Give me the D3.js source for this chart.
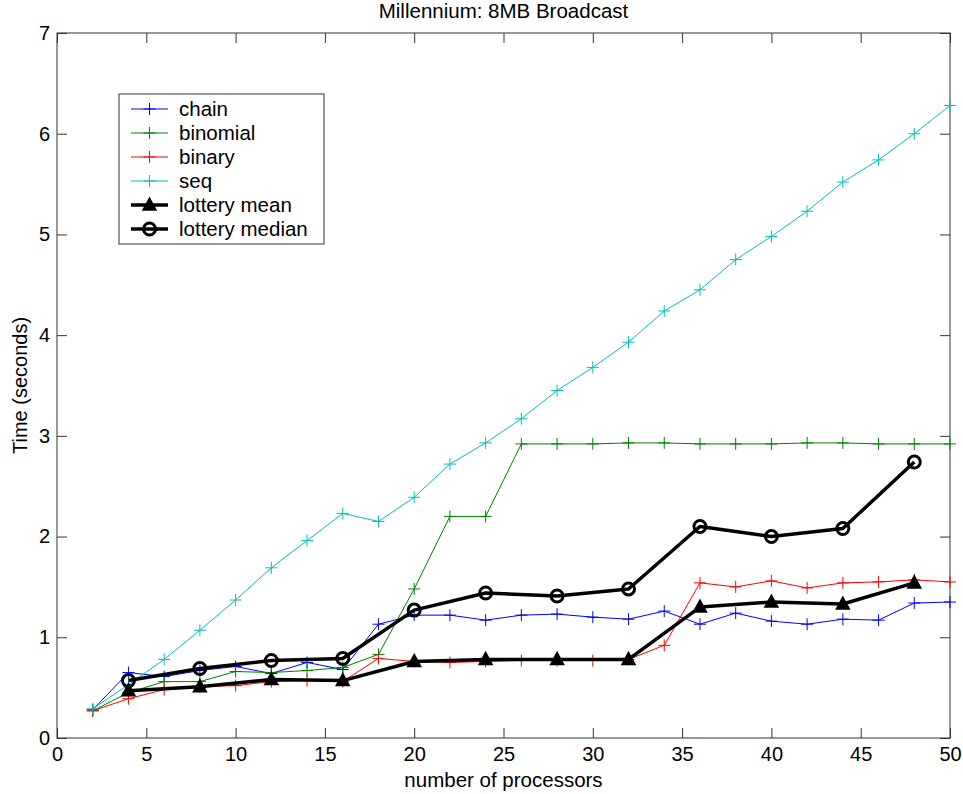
<!DOCTYPE html>
<html>
<head>
<meta charset="utf-8">
<script src="https://cdn.jsdelivr.net/npm/d3@7"></script>
<style>
  body { margin: 0; background: #fff; }
  svg { display: block; font-family: "Liberation Sans", Arial, sans-serif; }
</style>
</head>
<body>
<div id="chart"></div>
<script>
// x values (number of processors)
var procs = [2, 4, 6, 8, 10, 12, 14, 16, 18, 20, 22, 24, 26, 28, 30, 32, 34, 36, 38, 40, 42, 44, 46, 48, 50];
var chain    = [0.28, 0.65, 0.61, 0.67, 0.71, 0.64, 0.75, 0.68, 1.13, 1.22, 1.22, 1.17, 1.22, 1.23, 1.20, 1.18, 1.26, 1.13, 1.24, 1.16, 1.13, 1.18, 1.17, 1.34, 1.35];
var binomial = [0.27, 0.45, 0.56, 0.56, 0.66, 0.65, 0.67, 0.70, 0.83, 1.48, 2.20, 2.20, 2.92, 2.92, 2.92, 2.93, 2.93, 2.92, 2.92, 2.92, 2.93, 2.93, 2.92, 2.92, 2.92];
var binary   = [0.27, 0.39, 0.48, 0.51, 0.52, 0.56, 0.57, 0.56, 0.79, 0.76, 0.75, 0.76, 0.77, 0.77, 0.77, 0.78, 0.92, 1.54, 1.50, 1.56, 1.49, 1.54, 1.55, 1.57, 1.55];
var seq      = [0.29, 0.53, 0.78, 1.07, 1.37, 1.69, 1.96, 2.23, 2.15, 2.39, 2.72, 2.93, 3.17, 3.45, 3.68, 3.93, 4.24, 4.45, 4.75, 4.98, 5.23, 5.52, 5.74, 6.00, 6.28];

// lottery runs only at multiples of 4
var lotteryProcs  = [4, 8, 12, 16, 20, 24, 28, 32, 36, 40, 44, 48];
var lotteryMean   = [0.47, 0.51, 0.58, 0.57, 0.76, 0.78, 0.78, 0.78, 1.30, 1.35, 1.33, 1.54];
var lotteryMedian = [0.57, 0.69, 0.77, 0.79, 1.27, 1.44, 1.41, 1.48, 2.10, 2.00, 2.08, 2.74];

var xTicks = [0, 5, 10, 15, 20, 25, 30, 35, 40, 45, 50];
var yTicks = [0, 1, 2, 3, 4, 5, 6, 7];

var series = [
    {name: 'chain',          xs: procs,        ys: chain,         color: '#0000ff', width: 1,   marker: 'plus'},
    {name: 'binomial',       xs: procs,        ys: binomial,      color: '#008000', width: 1,   marker: 'plus'},
    {name: 'binary',         xs: procs,        ys: binary,        color: '#ff0000', width: 1,   marker: 'plus'},
    {name: 'seq',            xs: procs,        ys: seq,           color: '#00bfbf', width: 1,   marker: 'plus'},
    {name: 'lottery mean',   xs: lotteryProcs, ys: lotteryMean,   color: '#000000', width: 3.5, marker: 'triangle'},
    {name: 'lottery median', xs: lotteryProcs, ys: lotteryMedian, color: '#000000', width: 3.5, marker: 'circle'}
];

var margin = {top: 33, right: 13, bottom: 56, left: 57};
var svgWidth = 963, svgHeight = 794;
var width = svgWidth - margin.left - margin.right;
var height = svgHeight - margin.top - margin.bottom;

var svg = d3.select('#chart').append('svg')
    .attr('width', svgWidth)
    .attr('height', svgHeight);

var g = svg.append('g')
    .attr('transform', 'translate(' + margin.left + ',' + margin.top + ')');

var x = d3.scaleLinear().domain([0, 50]).range([0, width]);
var y = d3.scaleLinear().domain([0, 7]).range([height, 0]);

var frameColor = '#333';

// axes with inward ticks on all four sides (matlab box)
function styleAxis(sel) {
    sel.select('.domain').remove();
    sel.selectAll('line').attr('stroke', frameColor);
    sel.selectAll('text').attr('fill', '#000').style('font-size', '20px');
}

g.append('g')
    .attr('transform', 'translate(0,' + height + ')')
    .call(d3.axisBottom(x).tickValues(xTicks).tickSizeInner(-10).tickSizeOuter(0).tickPadding(9).tickFormat(d3.format('d')))
    .call(styleAxis);

g.append('g')
    .call(d3.axisTop(x).tickValues(xTicks).tickSizeInner(-10).tickSizeOuter(0).tickFormat(''))
    .call(styleAxis);

g.append('g')
    .call(d3.axisLeft(y).tickValues(yTicks).tickSizeInner(-10).tickSizeOuter(0).tickPadding(7).tickFormat(d3.format('d')))
    .call(styleAxis);

g.append('g')
    .attr('transform', 'translate(' + width + ',0)')
    .call(d3.axisRight(y).tickValues(yTicks).tickSizeInner(-10).tickSizeOuter(0).tickFormat(''))
    .call(styleAxis);

g.append('rect')
    .attr('width', width)
    .attr('height', height)
    .attr('fill', 'none')
    .attr('stroke', frameColor)
    .attr('stroke-width', 1);

// markers
function drawMarker(sel, type, color) {
    if (type === 'plus') {
        sel.append('path')
            .attr('d', 'M-6,0H6M0,-6V6')
            .attr('stroke', color)
            .attr('stroke-width', 1)
            .attr('fill', 'none');
    } else if (type === 'triangle') {
        sel.append('path')
            .attr('d', 'M0,-7L6.5,5L-6.5,5Z')
            .attr('fill', color)
            .attr('stroke', color)
            .attr('stroke-width', 1.5);
    } else {
        sel.append('circle')
            .attr('r', 6)
            .attr('fill', 'none')
            .attr('stroke', color)
            .attr('stroke-width', 3);
    }
}

var line = d3.line()
    .x(function(d) { return x(d[0]); })
    .y(function(d) { return y(d[1]); });

series.forEach(function(s) {
    var pts = s.xs.map(function(v, i) { return [v, s.ys[i]]; });

    g.append('path')
        .attr('d', line(pts))
        .attr('fill', 'none')
        .attr('stroke', s.color)
        .attr('stroke-width', s.width)
        .attr('stroke-linejoin', 'round');

    g.selectAll(null)
        .data(pts)
        .enter().append('g')
        .attr('transform', function(d) { return 'translate(' + x(d[0]) + ',' + y(d[1]) + ')'; })
        .each(function() { drawMarker(d3.select(this), s.marker, s.color); });
});

// legend
var legend = svg.append('g').attr('transform', 'translate(119,94)');
legend.append('rect')
    .attr('width', 205)
    .attr('height', 150)
    .attr('fill', '#fff')
    .attr('stroke', frameColor);

series.forEach(function(s, i) {
    var row = legend.append('g').attr('transform', 'translate(0,' + (15 + i * 24) + ')');
    row.append('line')
        .attr('x1', 12).attr('x2', 49)
        .attr('stroke', s.color)
        .attr('stroke-width', s.width);
    drawMarker(row.append('g').attr('transform', 'translate(30.5,0)'), s.marker, s.color);
    row.append('text')
        .attr('x', 60)
        .attr('dy', '0.35em')
        .style('font-size', '20.5px')
        .text(s.name);
});

// title and axis labels
svg.append('text')
    .attr('x', margin.left + width / 2)
    .attr('y', 18)
    .attr('text-anchor', 'middle')
    .style('font-size', '20.5px')
    .text('Millennium: 8MB Broadcast');

svg.append('text')
    .attr('x', margin.left + width / 2)
    .attr('y', 787)
    .attr('text-anchor', 'middle')
    .style('font-size', '20.5px')
    .text('number of processors');

svg.append('text')
    .attr('transform', 'translate(27,' + (margin.top + height / 2) + ') rotate(-90)')
    .attr('text-anchor', 'middle')
    .style('font-size', '20px')
    .text('Time (seconds)');
</script>
</body>
</html>
